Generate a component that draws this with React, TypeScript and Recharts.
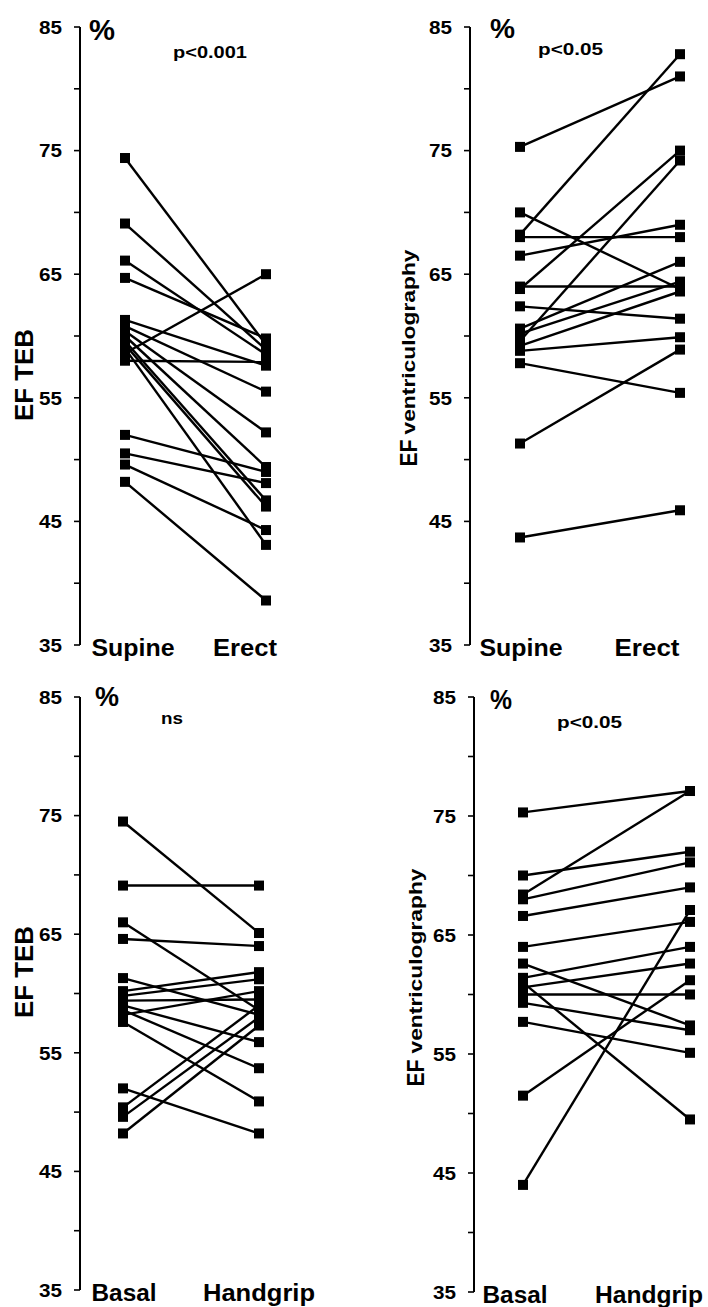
import React from 'react';
import { LineChart, Line, XAxis, YAxis } from 'recharts';

// paired values (index i = same subject)
const supineTEB = [74.4, 69.1, 66.1, 64.7, 61.3, 60.8, 60.4, 60.0, 59.6, 59.3, 59.0, 58.6, 58.0, 52.0, 50.5, 49.6, 48.2];
const erectTEB = [59.3, 58.9, 58.5, 59.8, 57.6, 55.5, 52.2, 49.4, 46.7, 46.2, 43.1, 65.0, 57.9, 49.0, 48.1, 44.3, 38.6];

const supineVG = [75.3, 70.0, 68.2, 68.0, 66.5, 64.0, 63.8, 62.4, 60.6, 60.2, 59.6, 59.2, 58.8, 57.8, 51.3, 43.7];
const erectVG = [81.0, 63.8, 82.8, 68.0, 69.0, 64.0, 75.0, 61.4, 66.0, 64.4, 74.2, 63.6, 59.9, 55.4, 58.9, 45.9];

const basalTEB = [74.5, 69.1, 66.0, 64.6, 61.3, 60.2, 59.8, 59.4, 59.0, 58.6, 58.2, 57.6, 52.0, 50.4, 49.6, 48.2];
const handgripTEB = [65.1, 69.1, 58.6, 64.0, 58.2, 61.8, 61.2, 59.5, 55.9, 53.7, 60.2, 50.9, 48.2, 59.0, 58.0, 57.3];

const basalVG = [75.3, 70.0, 68.4, 68.0, 66.6, 64.0, 62.6, 61.4, 61.0, 60.6, 60.0, 59.3, 57.7, 51.5, 44.0];
const handgripVG = [77.1, 72.0, 77.1, 71.1, 69.0, 66.1, 57.4, 64.0, 49.5, 62.6, 60.0, 57.0, 55.1, 61.2, 67.1];

const postureCats = ['Supine', 'Erect'];
const gripCats = ['Basal', 'Handgrip'];

const yTicks = [35, 40, 45, 50, 55, 60, 65, 70, 75, 80, 85];
const yLabelled = [35, 45, 55, 65, 75, 85];

const FONT = '"Liberation Sans", Arial, Helvetica, sans-serif';

function buildRows(cats: string[], before: number[], after: number[]) {
  return cats.map((c, j) => {
    const row: Record<string, any> = { cond: c };
    before.forEach((v, i) => {
      row['s' + i] = j === 0 ? v : after[i];
    });
    return row;
  });
}

const SquareDot = (props: any) => {
  const { cx, cy, key } = props;
  if (cx == null || cy == null) return <g key={key} />;
  return <rect key={key} x={cx - 5} y={cy - 5} width={10} height={10} fill="#000" />;
};

const YTick = ({ x, y, payload }: any) => {
  if (!yLabelled.includes(payload.value)) return <g />;
  return (
    <text x={x} y={y} dy="0.36em" textAnchor="end" fontSize={19} fontWeight="bold"
      fontFamily={FONT} fill="#000" textLength={23} lengthAdjust="spacingAndGlyphs">
      {payload.value}
    </text>
  );
};

const makeXTick = (shift: number[], widths: number[]) => ({ x, y, payload, index }: any) => (
  <text x={x + shift[index]} y={y} dy={11} textAnchor="middle" fontSize={23} fontWeight="bold"
    fontFamily={FONT} fill="#000" textLength={widths[index]} lengthAdjust="spacingAndGlyphs">
    {payload.value}
  </text>
);

function Note({ x, y, w, size, rotate, children }: any) {
  return (
    <text x={0} y={0} transform={`translate(${x},${y})${rotate ? ' rotate(-90)' : ''}`}
      textAnchor={rotate ? 'middle' : 'start'} fontSize={size} fontWeight="bold"
      fontFamily={FONT} fill="#000" textLength={w} lengthAdjust="spacingAndGlyphs">
      {children}
    </text>
  );
}

function Panel({ left, top, width, height, right, xHeight, pad, cats, before, after, xShift, xWidths, children }: any) {
  const rows = buildRows(cats, before, after);
  return (
    <div style={{ position: 'absolute', left, top }}>
      <LineChart width={width} height={height} data={rows}
        margin={{ top: 27, right, bottom: 0, left: 0 }}>
        <XAxis dataKey="cond" type="category" padding={pad} axisLine={false} tickLine={false}
          tickSize={0} tickMargin={0} height={xHeight} interval={0} tick={makeXTick(xShift, xWidths)} />
        <YAxis type="number" domain={[35, 85]} ticks={yTicks} width={80} interval={0}
          axisLine={{ stroke: '#000', strokeWidth: 2 }} tickLine={{ stroke: '#000', strokeWidth: 1.6 }}
          tickSize={6} tickMargin={12} tick={<YTick />} />
        {before.map((_: number, i: number) => (
          <Line key={i} dataKey={'s' + i} stroke="#000" strokeWidth={2.4} dot={SquareDot}
            activeDot={false} isAnimationActive={false} />
        ))}
        {children}
      </LineChart>
    </div>
  );
}

export default function App() {
  return (
    <div style={{ position: 'absolute', left: 0, top: 0, width: 708, height: 1307, background: '#fff', overflow: 'hidden' }}>
      <Panel left={0} top={0} width={340} height={670} right={40} xHeight={25}
        pad={{ left: 45, right: 34 }} cats={postureCats} before={supineTEB} after={erectTEB}
        xShift={[8, -21]} xWidths={[83, 64]}>
        <Note x={89} y={40} w={26} size={29}>%</Note>
        <Note x={173} y={58} w={74} size={17}>p&lt;0.001</Note>
        <Note x={33} y={375} w={92} size={25} rotate>EF TEB</Note>
      </Panel>

      <Panel left={390} top={0} width={318} height={670} right={8} xHeight={25}
        pad={{ left: 50, right: 20 }} cats={postureCats} before={supineVG} after={erectVG}
        xShift={[1, -33]} xWidths={[83, 65]}>
        <Note x={100} y={38} w={25} size={28}>%</Note>
        <Note x={148} y={55} w={65} size={17}>p&lt;0.05</Note>
        <Note x={27} y={453} w={27} size={23} rotate>EF</Note>
        <Note x={25} y={342} w={185} size={18} rotate>ventriculography</Note>
      </Panel>

      <Panel left={0} top={670} width={340} height={637} right={40} xHeight={17}
        pad={{ left: 43, right: 41 }} cats={gripCats} before={basalTEB} after={handgripTEB}
        xShift={[1, 0]} xWidths={[65, 112]}>
        <Note x={95} y={36} w={24} size={28}>%</Note>
        <Note x={161} y={54} w={22} size={17}>ns</Note>
        <Note x={33} y={302} w={92} size={25} rotate>EF TEB</Note>
      </Panel>

      <Panel left={394} top={670} width={314} height={637} right={4} xHeight={15}
        pad={{ left: 49, right: 14 }} cats={gripCats} before={basalVG} after={handgripVG}
        xShift={[-8, -41]} xWidths={[65, 108]}>
        <Note x={96} y={39} w={22} size={28}>%</Note>
        <Note x={163} y={58} w={65} size={17}>p&lt;0.05</Note>
        <Note x={30} y={403} w={27} size={23} rotate>EF</Note>
        <Note x={28} y={291} w={185} size={18} rotate>ventriculography</Note>
      </Panel>
    </div>
  );
}
